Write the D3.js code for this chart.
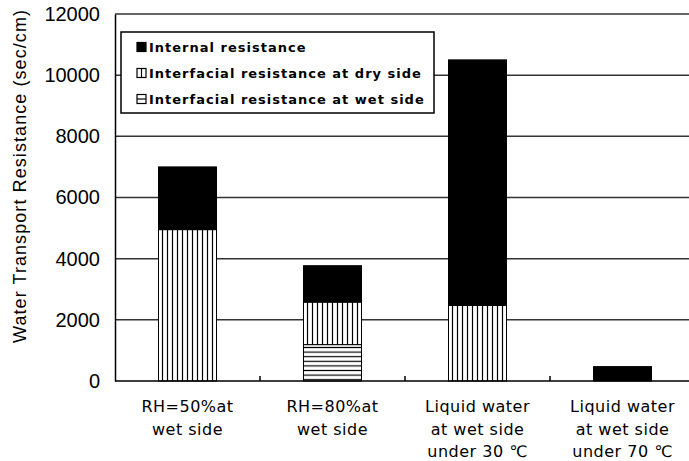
<!DOCTYPE html>
<html>
<head>
<meta charset="utf-8">
<script src="https://cdn.jsdelivr.net/npm/d3@7"></script>
<style>
  body { margin: 0; background: #fff; }
  svg { display: block; }
  .tick text { font-family: "Liberation Sans", Arial, sans-serif; }
</style>
</head>
<body>
<div class="chart"></div>
<script>
var categories = ["c1", "c2", "c3", "c4"];
var categoryLabels = [
  ["RH=50%at", "wet side"],
  ["RH=80%at", "wet side"],
  ["Liquid water", "at wet side", "under 30 \u2103"],
  ["Liquid water", "at wet side", "under 70 \u2103"]
];
var wetSide = [0, 1190, 0, 0];
var drySide = [4950, 1390, 2470, 0];
var internal = [2050, 1190, 8030, 470];
var seriesNames = ["Internal resistance", "Interfacial resistance at dry side", "Interfacial resistance at wet side"];
var yTicks = [0, 2000, 4000, 6000, 8000, 10000, 12000];

var svgWidth = 689, svgHeight = 461;
var margin = { top: 14, right: -6, bottom: 80, left: 115 };
var width = svgWidth - margin.left - margin.right;
var height = svgHeight - margin.top - margin.bottom;

var svg = d3.select(".chart").append("svg")
  .attr("width", svgWidth)
  .attr("height", svgHeight);

// hatch patterns
var defs = svg.append("defs");
var vp = defs.append("pattern").attr("id", "vert")
  .attr("patternUnits", "userSpaceOnUse")
  .attr("width", 5).attr("height", 5);
vp.append("rect").attr("width", 5).attr("height", 5).attr("fill", "#fff");
vp.append("line").attr("x1", 2.5).attr("x2", 2.5).attr("y1", 0).attr("y2", 5)
  .attr("stroke", "#000").attr("stroke-width", 1.2);
var hp = defs.append("pattern").attr("id", "horiz")
  .attr("patternUnits", "userSpaceOnUse")
  .attr("width", 5).attr("height", 4.6);
hp.append("rect").attr("width", 5).attr("height", 4.6).attr("fill", "#fff");
hp.append("line").attr("x1", 0).attr("x2", 5).attr("y1", 2.3).attr("y2", 2.3)
  .attr("stroke", "#000").attr("stroke-width", 1.2);

var chart = svg.append("g")
  .attr("transform", "translate(" + margin.left + "," + margin.top + ")");

var x = d3.scaleBand().domain(categories).range([0, width]).paddingInner(0.6).paddingOuter(0.3);
var y = d3.scaleLinear().domain([0, 12000]).range([height, 0]);

// gridlines
chart.append("g").selectAll("line")
  .data(yTicks.slice(1))
  .enter().append("line")
  .attr("x1", 0).attr("x2", width)
  .attr("y1", function(d) { return y(d); })
  .attr("y2", function(d) { return y(d); })
  .attr("stroke", "#333").attr("stroke-width", 1.5);

// stacked bars
var table = categories.map(function(c, i) {
  return { cat: c, wet: wetSide[i], dry: drySide[i], internal: internal[i] };
});
var stack = d3.stack().keys(["wet", "dry", "internal"]);
var fills = { wet: "url(#horiz)", dry: "url(#vert)", internal: "#000" };

chart.append("g").selectAll("g")
  .data(stack(table))
  .enter().append("g")
  .attr("fill", function(d) { return fills[d.key]; })
  .selectAll("rect")
  .data(function(d) { return d.filter(function(p) { return p[1] > p[0]; }); })
  .enter().append("rect")
  .attr("x", function(d) { return x(d.data.cat); })
  .attr("y", function(d) { return y(d[1]); })
  .attr("width", x.bandwidth())
  .attr("height", function(d) { return y(d[0]) - y(d[1]); })
  .attr("stroke", "#000").attr("stroke-width", 1);

// axes
var leftAxis = d3.axisLeft(y).tickValues(yTicks).tickSize(0).tickPadding(15).tickFormat(d3.format("d"));
var ya = chart.append("g").call(leftAxis);
ya.select(".domain").attr("stroke-width", 1.5);
ya.selectAll("text").attr("font-size", 20).attr("fill", "#000");

var step = x.step();
var bottom = chart.append("g").attr("transform", "translate(0," + height + ")");
bottom.append("line").attr("x1", 0).attr("x2", width).attr("stroke", "#000").attr("stroke-width", 1.5);
bottom.selectAll(".sep")
  .data(categories.slice(1))
  .enter().append("line")
  .attr("x1", function(d) { return x(d) - step * 0.3; })
  .attr("x2", function(d) { return x(d) - step * 0.3; })
  .attr("y1", 0).attr("y2", -5)
  .attr("stroke", "#000").attr("stroke-width", 1.5);

var labels = bottom.selectAll(".lab")
  .data(categories)
  .enter().append("text")
  .attr("text-anchor", "middle")
  .attr("font-family", "'DejaVu Sans', sans-serif")
  .attr("font-size", 16)
  .attr("letter-spacing", 0.5)
  .attr("transform", function(d) { return "translate(" + (x(d) + x.bandwidth() / 2) + ",0)"; });
labels.selectAll("tspan")
  .data(function(d, i) { return categoryLabels[i]; })
  .enter().append("tspan")
  .attr("x", 0)
  .attr("y", function(d, i) { return 31 + i * 22.5; })
  .text(function(d) { return d; });

// y title
svg.append("text")
  .attr("transform", "translate(26," + 176.5 + ") rotate(-90)")
  .attr("text-anchor", "middle")
  .attr("font-family", "'Liberation Sans', Arial, sans-serif")
  .attr("font-size", 18)
  .attr("textLength", 333)
  .attr("lengthAdjust", "spacing")
  .text("Water Transport Resistance (sec/cm)");

// legend
var legend = svg.append("g").attr("transform", "translate(121,32)");
legend.append("rect").attr("width", 313).attr("height", 81)
  .attr("fill", "#fff").attr("stroke", "#000").attr("stroke-width", 1.5);
var items = legend.selectAll(".item")
  .data(seriesNames)
  .enter().append("g")
  .attr("transform", function(d, i) { return "translate(16," + (15 + i * 26) + ")"; });
items.append("rect")
  .attr("x", 0).attr("y", -4.5).attr("width", 9).attr("height", 9)
  .attr("fill", function(d, i) { return i === 0 ? "#000" : "#fff"; })
  .attr("stroke", "#000").attr("stroke-width", 1.2);
items.filter(function(d, i) { return i === 1; }).append("line")
  .attr("x1", 4.5).attr("x2", 4.5).attr("y1", -4.5).attr("y2", 4.5)
  .attr("stroke", "#000").attr("stroke-width", 1.2);
items.filter(function(d, i) { return i === 2; }).append("line")
  .attr("x1", 0).attr("x2", 9).attr("y1", 0).attr("y2", 0)
  .attr("stroke", "#000").attr("stroke-width", 1.2);
items.append("text")
  .attr("x", 12).attr("y", 5)
  .attr("font-family", "'DejaVu Sans', sans-serif")
  .attr("font-weight", "bold")
  .attr("font-size", 13)
  .attr("letter-spacing", 1)
  .text(function(d) { return d; });
</script>
</body>
</html>
